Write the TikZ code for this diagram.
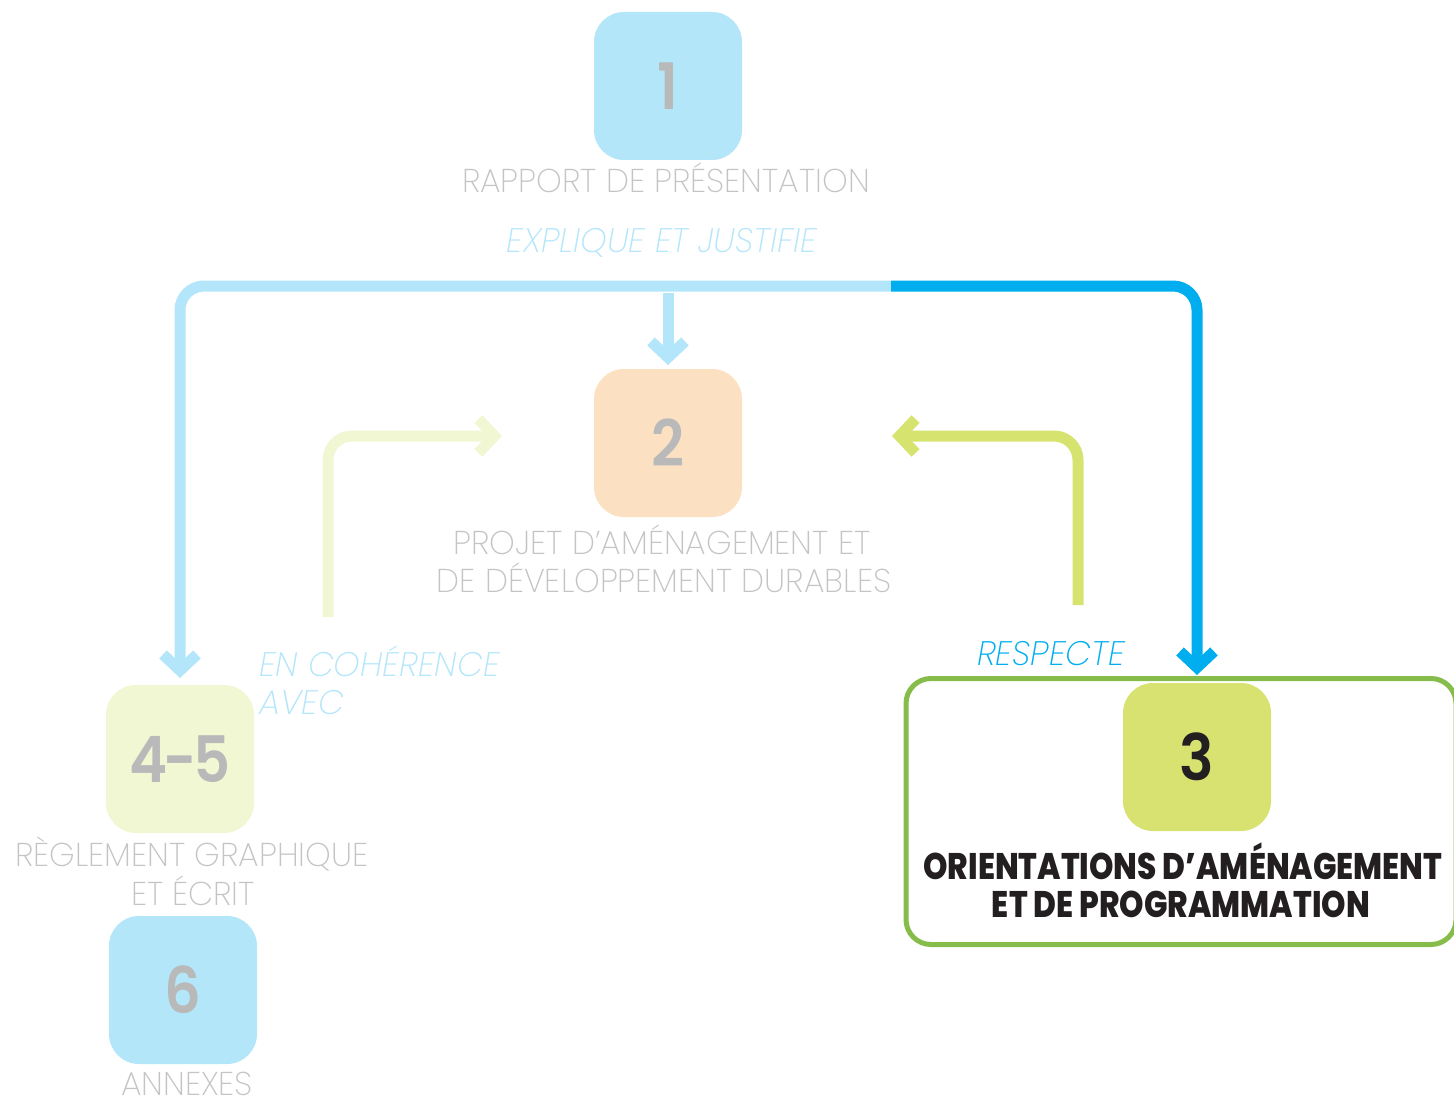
\documentclass[tikz,border=0pt]{standalone}
\usepackage{fontspec}
\setmainfont{Poppins}
\newfontfamily\lightfont{Poppins}[UprightFont=* ExtraLight, ItalicFont=* ExtraLight Italic, FakeStretch=0.99]
\newfontfamily\heavyfont{Poppins}[UprightFont=* ExtraBold, FakeStretch=0.84]
\newfontfamily\numfont{Poppins}[UprightFont=* SemiBold, FakeStretch=0.9]
\usetikzlibrary{arrows.meta}
\definecolor{boxblue}{HTML}{B3E6F9}
\definecolor{boxorange}{HTML}{FBE1C2}
\definecolor{boxlgreen}{HTML}{F1F6D3}
\definecolor{boxgreen}{HTML}{D7E270}
\definecolor{numgray}{HTML}{B9B9B9}
\definecolor{txtgray}{HTML}{C4C4C4}
\definecolor{lblue}{HTML}{B3E6FA}
\definecolor{dblue}{HTML}{00AEEF}
\definecolor{outgreen}{HTML}{86BC4A}
\definecolor{arrgreen}{HTML}{D7E36F}
\definecolor{arrlgreen}{HTML}{F1F6D3}
\definecolor{txtblack}{HTML}{231F20}
\tikzset{
  numbox/.style={minimum width=148pt, minimum height=148pt, rounded corners=30pt, inner sep=0pt,
    font=\numfont\fontsize{64}{64}\selectfont, text=numgray},
  lighttxt/.style={font=\lightfont\fontsize{33}{40}\selectfont, text=txtgray, anchor=base, inner sep=0pt},
  itxt/.style={font=\lightfont\itshape\fontsize{34}{40}\selectfont, anchor=base, inner sep=0pt},
  boldtxt/.style={font=\heavyfont\fontsize{37}{40}\selectfont, text=txtblack, anchor=base, inner sep=0pt},
  conn/.style={line width=11pt, rounded corners=24pt, -{Straight Barb[length=16pt,width=34pt]}},
}
\begin{document}
\begin{tikzpicture}[x=1pt,y=-1pt]
\useasboundingbox (0,0) rectangle (1454,1102);
% outline group for 3
\node[draw=outgreen, line width=5pt, rounded corners=25pt, minimum width=550pt, minimum height=266pt, inner sep=0pt] (grp3) at (1181,811.5) {};
% boxes
\node[numbox, fill=boxblue] (b1) at (668,86) {1};
\node[numbox, fill=boxorange] (b2) at (668,443) {2};
\node[numbox, fill=boxgreen, text=txtblack] (b3) at (1197,757) {3};
\node[numbox, fill=boxlgreen] (b45) at (180,759) {4\kern-4pt-\kern-4pt5};
\node[numbox, fill=boxblue] (b6) at (183,990) {6};
% labels
\node[lighttxt] (t1) at (666,193) {RAPPORT DE PRÉSENTATION};
\node[itxt, text=lblue] (e1) at (662,253) {EXPLIQUE ET JUSTIFIE};
\node[lighttxt] (t2a) at (662,554) {PROJET D’AMÉNAGEMENT ET};
\node[lighttxt] (t2b) at (664,592) {DE DÉVELOPPEMENT DURABLES};
\node[itxt, text=lblue, anchor=base west] (e2a) at (259,676) {EN COHÉRENCE};
\node[itxt, text=lblue, anchor=base west] (e2b) at (259,714) {AVEC};
\node[itxt, text=dblue] (e3) at (1051,665) {RESPECTE};
\node[lighttxt] (t45a) at (192,866) {RÈGLEMENT GRAPHIQUE};
\node[lighttxt] (t45b) at (193,905) {ET ÉCRIT};
\node[lighttxt] (t6) at (187,1095) {ANNEXES};
\node[boldtxt] (t3a) at (1183,879) {ORIENTATIONS D’AMÉNAGEMENT};
\node[boldtxt] (t3b) at (1181,917) {ET DE PROGRAMMATION};
% connector coordinates
\coordinate (split) at (891,286);
\coordinate (tip45) at (180,678);
\coordinate (tip3) at (1197,675);
\coordinate (stub) at (668,293);
\coordinate (tip2) at (668,365);
\coordinate (gstart) at (1078,605);
\coordinate (gtip) at (892,436);
\coordinate (lgstart) at (328,617);
\coordinate (lgtip) at (502,436);
% connectors
\draw[conn, draw=lblue] (split) -| (tip45);
\draw[conn, draw=dblue] (split) -| (tip3);
\draw[conn, draw=lblue] (stub) -- (tip2);
\draw[conn, draw=arrgreen] (gstart) |- (gtip);
\draw[conn, draw=arrlgreen] (lgstart) |- (lgtip);
\end{tikzpicture}
\end{document}
